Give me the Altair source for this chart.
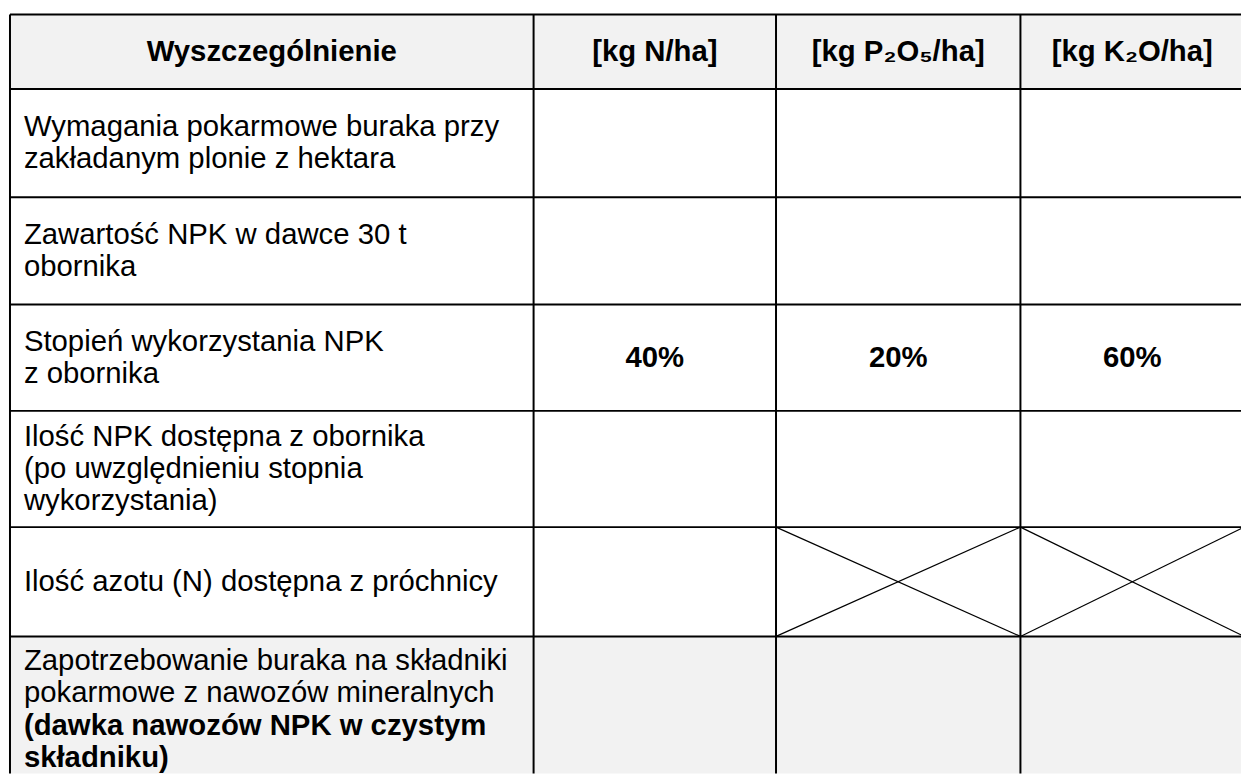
import altair as alt
import pandas as pd

# ---------------- table content ----------------
header_labels = ["Wyszczególnienie", "[kg N/ha]", "[kg P₂O₅/ha]", "[kg K₂O/ha]"]

row_lines = [
    ["Wymagania pokarmowe buraka przy", "zakładanym plonie z hektara"],
    ["Zawartość NPK w dawce 30 t", "obornika"],
    ["Stopień wykorzystania NPK", "z obornika"],
    ["Ilość NPK dostępna z obornika", "(po uwzględnieniu stopnia", "wykorzystania)"],
    ["Ilość azotu (N) dostępna z próchnicy"],
    ["Zapotrzebowanie buraka na składniki", "pokarmowe z nawozów mineralnych",
     "(dawka nawozów NPK w czystym", "składniku)"],
]
# index of the first bold line in each row label (None = no bold line)
bold_from_line = [None, None, None, None, None, 2]

utilization_row = 2                      # body row holding the percentages
utilization_values = ["40%", "20%", "60%"]
crossed_row = 4                          # body row with crossed-out cells
crossed_cols = [2, 3]
shaded_rows = [0, 6]                     # table rows (0 = header) with grey fill

# ---------------- layout ----------------
col_edges = [10, 537, 781, 1027, 1252]
row_edges = [12, 87, 196, 304, 411, 528, 638, 785]
OFF = 8
W, H = 1241, 768
FS = 29.5
LH = 32.5
FONT = "Liberation Sans"

cx = lambda i: (col_edges[i] + col_edges[i + 1]) / 2 - OFF
cy = lambda r: (row_edges[r] + row_edges[r + 1]) / 2 - OFF

fills = pd.DataFrame([
    dict(x=col_edges[0] - OFF, x2=col_edges[-1] - OFF,
         y=row_edges[r] - OFF, y2=row_edges[r + 1] - OFF)
    for r in shaded_rows
])

hlines = pd.DataFrame([
    dict(x=col_edges[0] - OFF, x2=col_edges[-1] - OFF, y=yy - OFF)
    for yy in row_edges
])
vlines = pd.DataFrame([
    dict(x=xx - OFF, y=row_edges[0] - OFF, y2=row_edges[-1] - OFF)
    for xx in col_edges
])

diag = []
tr = crossed_row + 1
for c in crossed_cols:
    xl, xr = col_edges[c] - OFF, col_edges[c + 1] - OFF
    yt, yb = row_edges[tr] - OFF, row_edges[tr + 1] - OFF
    diag.append(dict(x=xl, y=yt, x2=xr, y2=yb))
    diag.append(dict(x=xl, y=yb, x2=xr, y2=yt))
diag = pd.DataFrame(diag)

center_bold = [dict(x=cx(i), y=cy(0), t=lab) for i, lab in enumerate(header_labels)]
center_bold += [dict(x=cx(i + 1), y=cy(utilization_row + 1), t=v)
                for i, v in enumerate(utilization_values)]
center_bold = pd.DataFrame(center_bold)

lab_norm, lab_bold = [], []
for r, lines in enumerate(row_lines):
    n = len(lines)
    for k, line in enumerate(lines):
        rec = dict(x=col_edges[0] + 14 - OFF, y=cy(r + 1) + (k - (n - 1) / 2) * LH, t=line)
        b = bold_from_line[r]
        (lab_bold if (b is not None and k >= b) else lab_norm).append(rec)
lab_norm = pd.DataFrame(lab_norm)
lab_bold = pd.DataFrame(lab_bold)

xs = alt.Scale(domain=[0, W], nice=False, zero=False)
ys = alt.Scale(domain=[0, H], nice=False, zero=False, reverse=True)
X = lambda f="x": alt.X(f"{f}:Q", scale=xs, axis=None)
Y = lambda f="y": alt.Y(f"{f}:Q", scale=ys, axis=None)

fill_layer = alt.Chart(fills).mark_rect(color="#f2f2f2", clip=True).encode(
    x=X(), x2="x2:Q", y=Y(), y2="y2:Q")
h_layer = alt.Chart(hlines).mark_rule(color="black", strokeWidth=2, clip=True).encode(
    x=X(), x2="x2:Q", y=Y())
v_layer = alt.Chart(vlines).mark_rule(color="black", strokeWidth=2, clip=True).encode(
    x=X(), y=Y(), y2="y2:Q")
d_layer = alt.Chart(diag).mark_rule(color="black", strokeWidth=1.2, clip=True).encode(
    x=X(), y=Y(), x2="x2:Q", y2="y2:Q")

t_center = alt.Chart(center_bold).mark_text(
    font=FONT, fontSize=FS, fontWeight="bold", align="center", baseline="middle",
    color="black").encode(x=X(), y=Y(), text="t:N")
t_norm = alt.Chart(lab_norm).mark_text(
    font=FONT, fontSize=FS, align="left", baseline="middle", color="black").encode(
    x=X(), y=Y(), text="t:N")
t_bold = alt.Chart(lab_bold).mark_text(
    font=FONT, fontSize=FS, fontWeight="bold", align="left", baseline="middle",
    color="black").encode(x=X(), y=Y(), text="t:N")

chart = alt.layer(fill_layer, d_layer, h_layer, v_layer, t_center, t_norm, t_bold).properties(
    width=W, height=H, padding=0,
    autosize=alt.AutoSizeParams(type="none"),
    background="white",
).configure_view(stroke=None)

chart.save("out.html", embed_options={"renderer": "svg", "actions": False})
